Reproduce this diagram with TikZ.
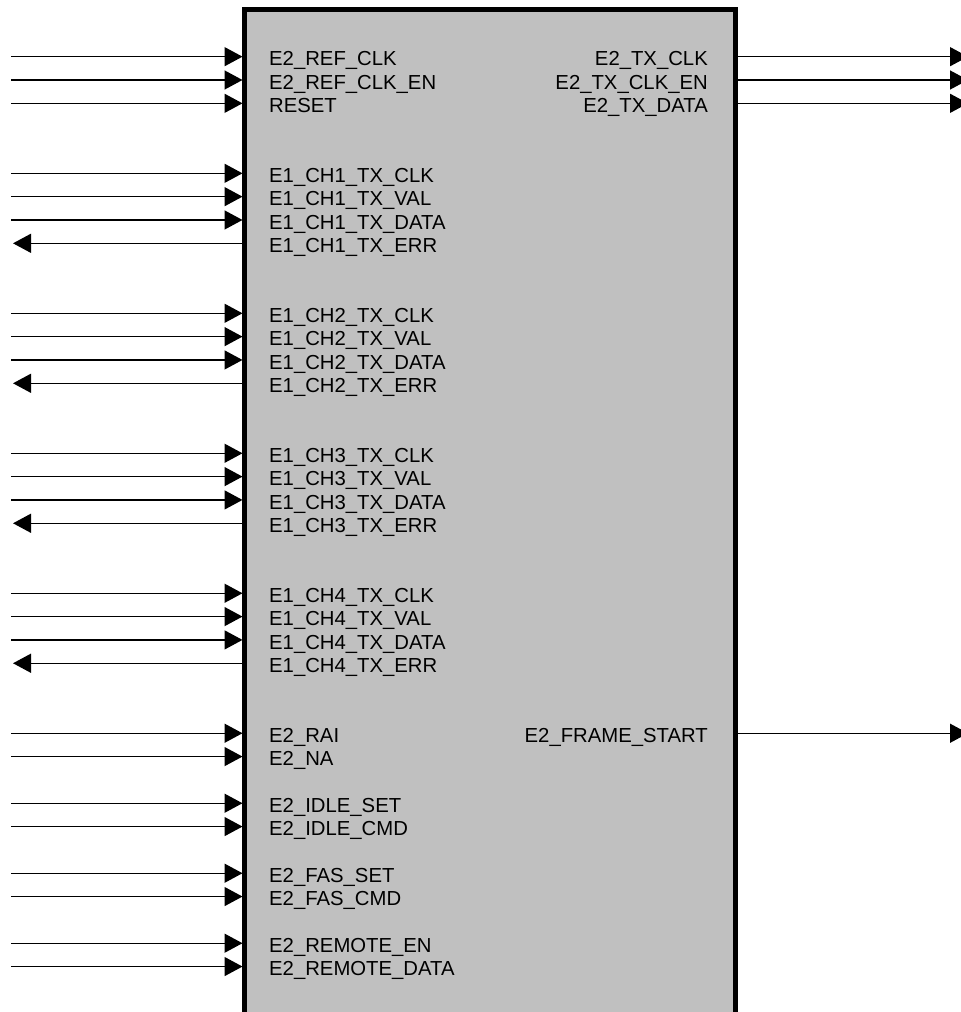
\documentclass[tikz,border=0pt]{standalone}
\usepackage{fontspec}
\setmainfont{Liberation Sans}
\usetikzlibrary{arrows.meta}
\definecolor{boxgray}{RGB}{192,192,192}
\tikzset{
  pin/.style={line width=1.4pt},
  inarrow/.style={pin,-{Triangle[length=18pt,width=19pt]}},
  outarrow/.style={pin,{Triangle[length=18pt,width=19pt]}-},
  lbl/.style={inner sep=0pt,font=\fontsize{20.3}{23}\selectfont},
}
\begin{document}
\begin{tikzpicture}[x=1pt,y=-1pt]
\useasboundingbox (0,0) rectangle (961,1012);
\node[draw,line width=4.5pt,fill=boxgray,minimum width=491pt,minimum height=1020pt,anchor=north west,inner sep=0pt,outer sep=0pt] (blk) at (244.5,9.5) {};
% left inputs: name, row index
\foreach \nm/\k/\t in {E2\_REF\_CLK/0/a, E2\_REF\_CLK\_EN/1/b, RESET/2/c,
  E1\_CH1\_TX\_CLK/5/d, E1\_CH1\_TX\_VAL/6/e, E1\_CH1\_TX\_DATA/7/f,
  E1\_CH2\_TX\_CLK/11/g, E1\_CH2\_TX\_VAL/12/h, E1\_CH2\_TX\_DATA/13/i,
  E1\_CH3\_TX\_CLK/17/j, E1\_CH3\_TX\_VAL/18/k, E1\_CH3\_TX\_DATA/19/l,
  E1\_CH4\_TX\_CLK/23/m, E1\_CH4\_TX\_VAL/24/n, E1\_CH4\_TX\_DATA/25/o,
  E2\_RAI/29/p, E2\_NA/30/q, E2\_IDLE\_SET/32/r, E2\_IDLE\_CMD/33/s,
  E2\_FAS\_SET/35/t, E2\_FAS\_CMD/36/u, E2\_REMOTE\_EN/38/v, E2\_REMOTE\_DATA/39/w}{
  \pgfmathsetmacro{\yy}{56.67+23.33*\k}
  \coordinate (src\t) at (11,\yy);
  \coordinate (dst\t) at (242.5,\yy);
  \node[lbl,anchor=base west] (l\t) at (269,\yy+9.3) {\nm};
  \draw[inarrow] (src\t) -- (dst\t);
}
% left outputs
\foreach \nm/\k/\t in {E1\_CH1\_TX\_ERR/8/a, E1\_CH2\_TX\_ERR/14/b, E1\_CH3\_TX\_ERR/20/c, E1\_CH4\_TX\_ERR/26/d}{
  \pgfmathsetmacro{\yy}{56.67+23.33*\k}
  \coordinate (tip\t) at (13,\yy);
  \coordinate (org\t) at (242.5,\yy);
  \node[lbl,anchor=base west] (e\t) at (269,\yy+9.3) {\nm};
  \draw[outarrow] (tip\t) -- (org\t);
}
% right outputs
\foreach \nm/\k/\t in {E2\_TX\_CLK/0/a, E2\_TX\_CLK\_EN/1/b, E2\_TX\_DATA/2/c, E2\_FRAME\_START/29/d}{
  \pgfmathsetmacro{\yy}{56.67+23.33*\k}
  \coordinate (ro\t) at (737.5,\yy);
  \coordinate (rt\t) at (968,\yy);
  \node[lbl,anchor=base east] (r\t) at (708,\yy+9.3) {\nm};
  \draw[inarrow] (ro\t) -- (rt\t);
}
\end{tikzpicture}
\end{document}
